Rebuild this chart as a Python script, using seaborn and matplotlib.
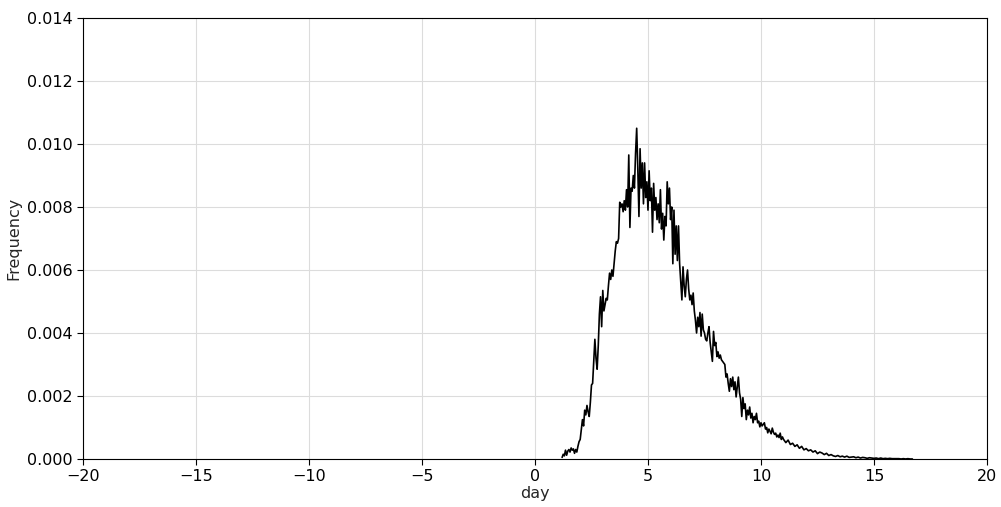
import numpy as np
import pandas as pd
import matplotlib
matplotlib.use("Agg")
import matplotlib.pyplot as plt
import seaborn as sns

# frequency, in units of 1e-3
# first part: days 1.20 .. 10.95, step 0.05
head_start = 1.20
head_step = 0.05
freq_head = [
    0.05, 0.15, 0.10, 0.28, 0.12, 0.25, 0.30, 0.22, 0.35, 0.28,
    0.32, 0.18, 0.30, 0.22, 0.40, 0.55, 0.62, 0.95, 1.25, 1.05,
    1.55, 1.40, 1.70, 1.50, 1.35, 1.80, 2.35, 2.40, 3.10, 3.80,
    3.20, 2.85, 3.60, 4.60, 5.15, 4.20, 5.35, 4.70, 4.90, 5.10,
    5.05, 5.50, 5.90, 5.70, 6.00, 5.80, 6.20, 6.60, 6.90, 6.85,
    7.00, 8.15, 8.00, 8.10, 7.85, 8.20, 7.90, 8.55, 8.00, 9.65,
    7.35, 8.60, 8.50, 9.00, 8.60, 9.70, 10.50, 9.20, 7.70, 9.85,
    8.60, 9.40, 8.10, 9.40, 8.30, 8.80, 7.90, 9.15, 8.20, 8.60,
    7.20, 8.75, 7.90, 8.30, 7.60, 8.10, 7.50, 8.55, 7.30, 7.80,
    6.95, 7.70, 7.40, 8.80, 8.10, 8.60, 7.60, 8.00, 6.20, 7.90,
    6.50, 7.40, 6.30, 7.40, 6.20, 5.60, 5.05, 6.10, 5.50, 5.15,
    5.70, 6.00, 5.40, 5.05, 5.20, 4.90, 5.27, 4.70, 4.40, 4.00,
    4.50, 4.20, 4.65, 3.90, 4.60, 4.10, 4.00, 3.80, 3.75, 4.00,
    4.20, 3.70, 3.40, 3.10, 4.05, 3.60, 3.70, 3.25, 3.40, 3.20,
    3.30, 3.15, 3.10, 3.05, 3.00, 2.60, 2.70, 2.40, 2.15, 2.55,
    2.30, 2.60, 2.20, 2.45, 1.97, 2.30, 2.60, 2.10, 1.90, 1.35,
    1.95, 1.60, 1.75, 1.25, 1.55, 1.40, 1.65, 1.30, 1.45, 1.15,
    1.35, 1.25, 1.45, 1.15, 1.20, 1.02, 1.15, 1.05, 1.10, 1.15,
    0.95, 1.00, 0.83, 0.95, 0.88, 0.80, 0.98, 0.85, 0.78, 0.82,
    0.70, 0.76, 0.68, 0.82, 0.62, 0.70,
]
# tail: days 11.0 .. 16.7, step 0.1
tail_start = 11.0
tail_step = 0.1
freq_tail = [
    0.62, 0.52, 0.60, 0.46, 0.50, 0.40, 0.45, 0.34, 0.40, 0.29,
    0.33, 0.26, 0.29, 0.22, 0.26, 0.17, 0.22, 0.19, 0.14, 0.18,
    0.11, 0.14, 0.10, 0.08, 0.11, 0.07, 0.09, 0.06, 0.09, 0.05,
    0.06, 0.07, 0.04, 0.06, 0.03, 0.05, 0.04, 0.02, 0.04, 0.03,
    0.02, 0.03, 0.01, 0.03, 0.01, 0.02, 0.01, 0.02, 0.01, 0.01,
    0.01, 0.01, 0.00, 0.01, 0.00, 0.01, 0.00, 0.00,
]

x_ticks = [-20, -15, -10, -5, 0, 5, 10, 15, 20]
y_ticks = [0.000, 0.002, 0.004, 0.006, 0.008, 0.010, 0.012, 0.014]

days = np.concatenate([
    head_start + head_step * np.arange(len(freq_head)),
    tail_start + tail_step * np.arange(len(freq_tail)),
])
freq = np.array(freq_head + freq_tail) / 1000.0
df = pd.DataFrame({"day": days, "Frequency": freq})

sns.set_style("whitegrid", {"axes.edgecolor": "black", "grid.color": "#dcdcdc",
                            "xtick.bottom": True, "ytick.left": True})
fig = plt.figure(figsize=(10.01, 5.07), dpi=100)
ax = fig.add_axes([0.0829, 0.0947, 0.9031, 0.8698])

sns.lineplot(data=df, x="day", y="Frequency", color="black", linewidth=1.2, ax=ax)

ax.set_xlim(-20, 20)
ax.set_ylim(0, 0.014)
ax.set_xticks(x_ticks)
ax.set_yticks(y_ticks)
ax.set_yticklabels([f"{v:.3f}" for v in y_ticks])
ax.tick_params(labelsize=11.5, length=4, width=0.8, colors="black", direction="out")
ax.set_xlabel("day", fontsize=11.5, labelpad=1)
ax.set_ylabel("Frequency", fontsize=11.5, labelpad=4)
ax.grid(True, linewidth=0.8)
for s in ax.spines.values():
    s.set_linewidth(0.8)

fig.savefig("out.png", dpi=100)
